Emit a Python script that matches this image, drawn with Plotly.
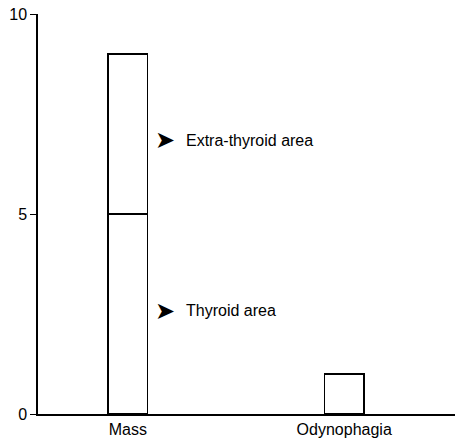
import plotly.graph_objects as go

categories = ["Mass", "Odynophagia"]
thyroid_area = [5, 0]
extra_thyroid_area = [4, 0]
other = [0, 1]
y_ticks = [0, 5, 10]
labels = ["Extra-thyroid area", "Thyroid area"]
label_y = [6.85, 2.58]

xpos = [0, 1]
bar_style = dict(color="white", line=dict(color="black", width=1.5))
w = 0.184

fig = go.Figure()
fig.add_trace(go.Bar(x=xpos, y=thyroid_area, width=w, marker=bar_style, showlegend=False))
fig.add_trace(go.Bar(x=xpos, y=extra_thyroid_area, width=w, marker=bar_style, showlegend=False))
fig.add_trace(go.Bar(x=[1], y=[other[1]], width=w, marker=bar_style, showlegend=False))

font = dict(family="Liberation Sans, Arial, sans-serif", size=16, color="black")
for lab, ly in zip(labels, label_y):
    fig.add_annotation(x=0.115, y=ly, xref="x", yref="y", text="\u27a4",
                       showarrow=False, xanchor="left", yanchor="middle",
                       font=dict(family="DejaVu Sans", size=24, color="black"))
    fig.add_annotation(x=0.258, y=ly, xref="x", yref="y", text=lab,
                       showarrow=False, xanchor="left", yanchor="middle", font=font)

fig.update_layout(
    barmode="stack",
    width=458, height=446,
    margin=dict(l=38, r=3, t=14, b=32),
    plot_bgcolor="white", paper_bgcolor="white",
    font=font,
    xaxis=dict(range=[-0.415, 1.512], tickvals=xpos, ticktext=categories,
               showline=True, linecolor="black", linewidth=1.5, ticks="",
               showgrid=False, zeroline=False, tickfont=dict(size=16)),
    yaxis=dict(range=[0, 10], tickvals=y_ticks, showline=True, linecolor="black",
               linewidth=1.5, ticks="outside", ticklen=6, tickcolor="black",
               showgrid=False, zeroline=False, tickfont=dict(size=16)),
)
fig.write_html("out.html", config={"displayModeBar": False},
               post_script="document.body.style.margin='0';")
